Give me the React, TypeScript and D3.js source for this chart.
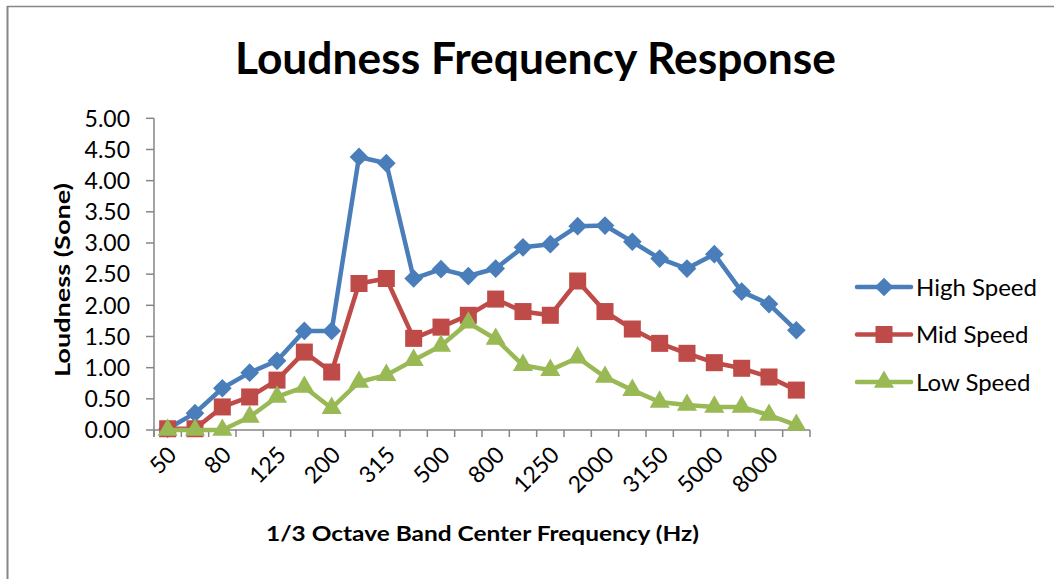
import React from "react";
import * as d3 from "d3";

const categories = ["50","63","80","100","125","160","200","250","315","400","500","630","800","1000","1250","1600","2000","2500","3150","4000","5000","6300","8000","10000"];
const highSpeed = [0.02,0.27,0.67,0.92,1.11,1.59,1.59,4.38,4.28,2.43,2.58,2.47,2.59,2.93,2.98,3.27,3.28,3.02,2.75,2.59,2.82,2.22,2.02,1.60];
const midSpeed = [0.02,0.02,0.37,0.53,0.80,1.25,0.93,2.35,2.43,1.47,1.65,1.84,2.10,1.90,1.84,2.39,1.90,1.62,1.39,1.23,1.08,0.99,0.85,0.64];
const lowSpeed = [0.00,0.00,0.00,0.21,0.53,0.69,0.35,0.77,0.88,1.12,1.35,1.72,1.46,1.04,0.96,1.16,0.85,0.64,0.45,0.40,0.37,0.37,0.24,0.08];
const yTicks = [0,0.5,1,1.5,2,2.5,3,3.5,4,4.5,5];
const seriesNames = ["High Speed","Mid Speed","Low Speed"];
const seriesColors = ["#4A7EBB","#BE4B48","#98B954"];

const FONT = "Lato, 'Open Sans', sans-serif";

export default function App() {
  const W = 1054, H = 579;
  const x = d3.scaleBand<string>().domain(categories).range([154, 810]);
  const y = d3.scaleLinear().domain([0, 5]).range([430, 118.3]);
  const cx = (c: string) => (x(c) as number) + x.bandwidth() / 2;

  const series = [highSpeed, midSpeed, lowSpeed];
  const line = d3.line<number>().x((_, i) => cx(categories[i])).y((v) => y(v));

  const squarePath = d3.symbol(d3.symbolSquare, 290)() as string;
  const diamondPath = d3.symbol(d3.symbolSquare, 175)() as string;
  const trianglePath = d3.symbol(d3.symbolTriangle, 175)() as string;

  const marker = (si: number, px: number, py: number, key: string) => {
    if (si === 0) return <path key={key} d={diamondPath} transform={`translate(${px},${py}) rotate(45)`} fill={seriesColors[0]} />;
    if (si === 1) return <path key={key} d={squarePath} transform={`translate(${px},${py})`} fill={seriesColors[1]} />;
    return <path key={key} d={trianglePath} transform={`translate(${px},${py})`} fill={seriesColors[2]} />;
  };

  const boundaries = d3.range(categories.length + 1).map((i) => 154 + i * x.step());

  return (
    <svg width={W} height={H} style={{ position: "absolute", left: 0, top: 0, background: "#fff" }} fontFamily={FONT}>
      <rect x={0} y={0} width={W} height={H} fill="#fff" />
      {/* outer border */}
      <line x1={7} y1={6.5} x2={W} y2={6.5} stroke="#868686" strokeWidth={1.5} />
      <line x1={7.5} y1={6} x2={7.5} y2={H} stroke="#868686" strokeWidth={2} />

      {/* title */}
      <text x={535.5} y={74} textAnchor="middle" fontWeight="bold" fontSize={44} textLength={601} lengthAdjust="spacingAndGlyphs" fill="#000">Loudness Frequency Response</text>

      {/* y axis */}
      <line x1={154} y1={y(5)} x2={154} y2={437} stroke="#868686" strokeWidth={1.5} />
      {yTicks.map((t) => (
        <g key={"yt" + t}>
          <line x1={146} x2={154} y1={y(t)} y2={y(t)} stroke="#868686" strokeWidth={1.5} />
          <text x={130} y={y(t)} dy="0.36em" textAnchor="end" fontSize={23} fill="#000">{d3.format(".2f")(t)}</text>
        </g>
      ))}

      {/* x axis */}
      <line x1={154} y1={430} x2={810} y2={430} stroke="#868686" strokeWidth={1.5} />
      {boundaries.map((bx, i) => (
        <line key={"xt" + i} x1={bx} x2={bx} y1={430} y2={437} stroke="#868686" strokeWidth={1.5} />
      ))}
      {categories.map((c, i) =>
        i % 2 === 0 ? (
          <text key={"xl" + c} transform={`translate(${cx(c) - 1},${445}) rotate(-45)`} textAnchor="end" fontSize={23} dy="0.7em" fill="#000">{c}</text>
        ) : null
      )}

      {/* axis titles */}
      <text transform="translate(70,280) rotate(-90)" textAnchor="middle" fontWeight="bold" fontSize={21} textLength={194} lengthAdjust="spacingAndGlyphs" fill="#000">Loudness (Sone)</text>
      <text x={482.5} y={541} textAnchor="middle" fontWeight="bold" fontSize={21} textLength={433} lengthAdjust="spacingAndGlyphs" fill="#000">1/3 Octave Band Center Frequency (Hz)</text>

      {/* series */}
      {series.map((s, si) => (
        <g key={"s" + si}>
          <path d={line(s) as string} fill="none" stroke={seriesColors[si]} strokeWidth={4.5} strokeLinejoin="round" strokeLinecap="round" />
          {s.map((v, i) => marker(si, cx(categories[i]), y(v), `m${si}-${i}`))}
        </g>
      ))}

      {/* legend */}
      {seriesNames.map((n, i) => {
        const ly = 287 + i * 47.5;
        return (
          <g key={"lg" + n}>
            <line x1={857} x2={911} y1={ly} y2={ly} stroke={seriesColors[i]} strokeWidth={4.5} strokeLinecap="round" />
            {marker(i, 884, ly, "lm" + i)}
            <text x={916} y={ly} dy="0.36em" fontSize={24} fill="#000">{n}</text>
          </g>
        );
      })}
    </svg>
  );
}
